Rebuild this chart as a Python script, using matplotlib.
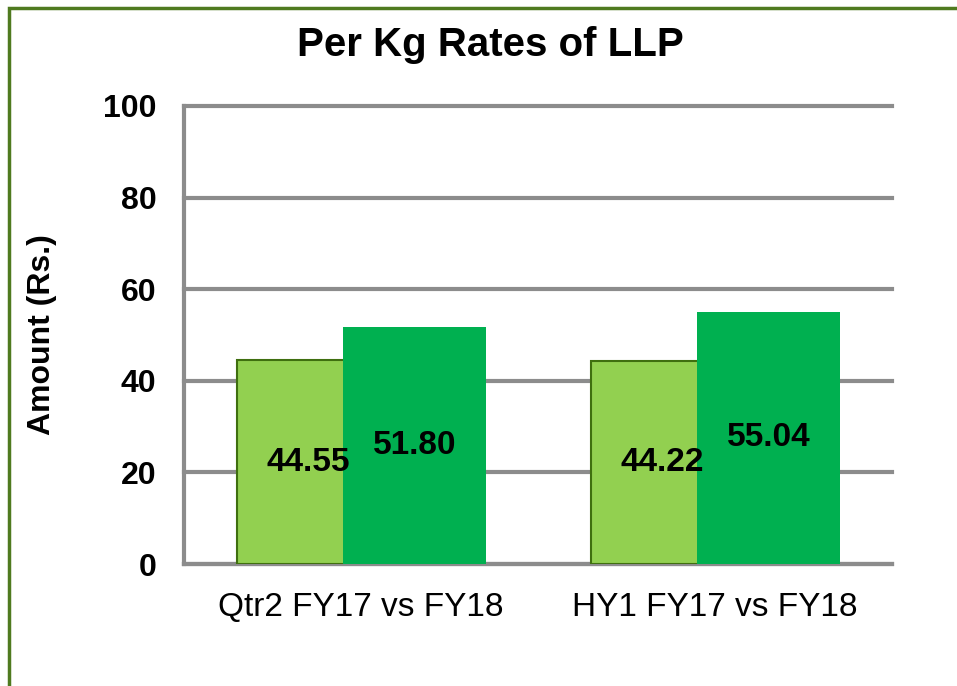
import matplotlib
matplotlib.use("Agg")
import matplotlib.pyplot as plt
from matplotlib.patches import Rectangle
import numpy as np

categories = ["Qtr2 FY17 vs FY18", "HY1 FY17 vs FY18"]
fy17 = [44.55, 44.22]
fy18 = [51.80, 55.04]
yticks = [0, 20, 40, 60, 80, 100]

plt.rcParams['font.family'] = ['Liberation Sans', 'DejaVu Sans']

fig = plt.figure(figsize=(9.57, 6.86), dpi=100)
ax = fig.add_axes([0.1923, 0.1778, 0.932 - 0.1923, 0.8455 - 0.1778])

x = np.arange(len(categories))
w = 0.404
b1 = ax.bar(x - 0.149, fy17, width=w, color='#92D050', edgecolor='#3F6F0F', linewidth=1.5, zorder=3)
b2 = ax.bar(x + 0.152, fy18, width=w, color='#00B050', edgecolor='none', zorder=4)

for i, v in enumerate(fy17):
    ax.text(x[i] - 0.149, v / 2, f"{v:.2f}", ha='center', va='center', fontsize=24, fontweight='bold', zorder=6)
for i, v in enumerate(fy18):
    ax.text(x[i] + 0.152, v / 2, f"{v:.2f}", ha='center', va='center', fontsize=24, fontweight='bold', zorder=6)

ax.set_xlim(-0.5, 1.5)
ax.set_ylim(0, 100)
ax.set_yticks(yticks)
ax.set_yticklabels([str(t) for t in yticks], fontsize=23, fontweight='bold')
ax.set_xticks(x)
ax.set_xticklabels(categories, fontsize=24)
ax.tick_params(axis='y', length=0, pad=20)
ax.tick_params(axis='x', length=0, pad=20)
ax.yaxis.grid(True, color='#8C8C8C', linewidth=3, zorder=1)
for gl in ax.get_ygridlines():
    gl.set_clip_on(False)
ax.set_axisbelow(True)
for s in ['top', 'right']:
    ax.spines[s].set_visible(False)
for s in ['left', 'bottom']:
    ax.spines[s].set_color('#8C8C8C')
    ax.spines[s].set_linewidth(3)

ax.set_ylabel("Amount (Rs.)", fontsize=23, fontweight='bold')
ax.yaxis.set_label_coords(-0.18, 0.5)

fig.text(0.512, 0.935, "Per Kg Rates of LLP", ha='center', va='center', fontsize=29, fontweight='bold')

fig.patches.append(Rectangle((9 / 957, -0.1), 1.2, 1 - 8 / 686 + 0.1, transform=fig.transFigure,
                             fill=False, edgecolor='#4F7A1F', linewidth=2.5, zorder=10))

fig.savefig("out.png", dpi=100)
